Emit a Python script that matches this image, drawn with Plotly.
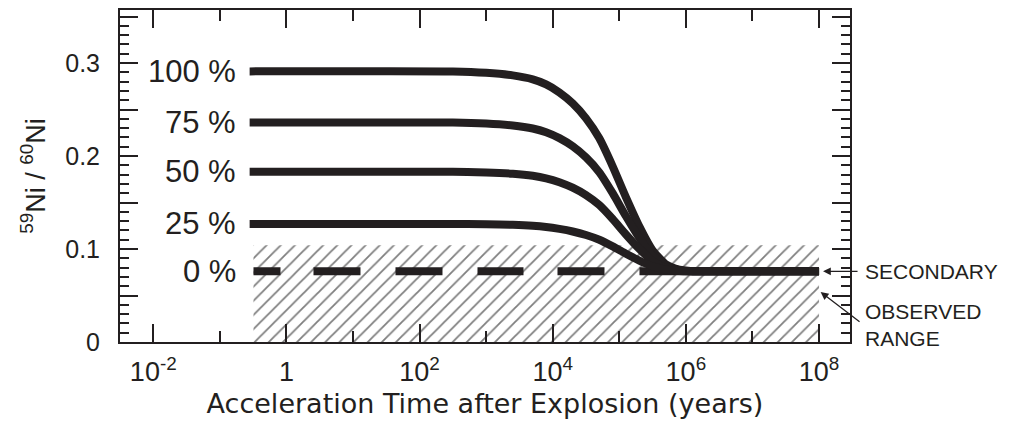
import plotly.graph_objects as go

# ---- data ----
t_years = [0.28, 10**2.5, 1e3, 10**3.4, 10**3.7, 10**3.9, 10**4.1, 10**4.3, 10**4.5,
           10**4.7, 10**4.9, 10**5.1, 10**5.3, 10**5.5, 10**5.7, 10**5.9, 10**6.1,
           10**6.4, 1e8]
ratio_100 = [0.291, 0.291, 0.2895, 0.2867, 0.2824, 0.2770, 0.2684, 0.2566, 0.2405,
             0.2190, 0.1889, 0.1556, 0.1244, 0.0986, 0.0835, 0.0777, 0.0762,
             0.076, 0.076]
ratio_75 = [0.236, 0.236, 0.2349, 0.2328, 0.2296, 0.2256, 0.2192, 0.2104, 0.1984,
            0.1824, 0.1600, 0.1352, 0.1120, 0.0928, 0.0816, 0.0773, 0.0762,
            0.076, 0.076]
ratio_50 = [0.183, 0.183, 0.1823, 0.1809, 0.1787, 0.1760, 0.1718, 0.1659, 0.1579,
            0.1472, 0.1322, 0.1156, 0.1001, 0.0872, 0.0797, 0.0769, 0.0761,
            0.076, 0.076]
ratio_25 = [0.127, 0.127, 0.1266, 0.1260, 0.1250, 0.1237, 0.1216, 0.1188, 0.1150,
            0.1099, 0.1028, 0.0949, 0.0875, 0.0814, 0.0778, 0.0764, 0.0761,
            0.076, 0.076]
curve_labels = ["100 %", "75 %", "50 %", "25 %"]

secondary_t = [0.32, 1e8]
secondary_ratio = [0.076, 0.076]

observed_t = [0.32, 1e8]
observed_ratio = [0.0, 0.104]

x_major_vals = [1e-2, 1, 1e2, 1e4, 1e6, 1e8]
x_major_text = ["10<sup>-2</sup>", "1", "10<sup>2</sup>", "10<sup>4</sup>",
                "10<sup>6</sup>", "10<sup>8</sup>"]
x_minor_vals = [1e-1, 1e1, 1e3, 1e5, 1e7]
y_major_vals = [0, 0.05, 0.1, 0.15, 0.2, 0.25, 0.3, 0.35]
y_major_text = ["0", "", "0.1", "", "0.2", "", "0.3", ""]

INK = "#231f20"
FONT = "Liberation Sans, Arial, sans-serif"
WIDE = "DejaVu Sans, sans-serif"

fig = go.Figure()

# observed range (hatched)
fig.add_trace(go.Scatter(
    x=[observed_t[0], observed_t[1], observed_t[1], observed_t[0], observed_t[0]],
    y=[observed_ratio[0], observed_ratio[0], observed_ratio[1], observed_ratio[1], observed_ratio[0]],
    mode="lines", fill="toself", line=dict(width=0), fillcolor="rgba(0,0,0,0)",
    fillpattern=dict(shape="/", size=10, solidity=0.18, fgcolor="#000000"),
    hoverinfo="skip", showlegend=False))

# 0 % secondary (dashed)
fig.add_trace(go.Scatter(
    x=secondary_t, y=secondary_ratio, mode="lines",
    line=dict(color=INK, width=8,
              dash="27px,33px,47px,35px,47px,35px,46px,34px,47px,35px,400px,10px"),
    showlegend=False, hoverinfo="skip"))

for vals in [ratio_100, ratio_75, ratio_50, ratio_25]:
    fig.add_trace(go.Scatter(
        x=t_years, y=vals, mode="lines",
        line=dict(color=INK, width=8, shape="spline", smoothing=0.6),
        showlegend=False, hoverinfo="skip"))

# curve labels
for lab, vals in zip(curve_labels + ["0 %"],
                     [ratio_100, ratio_75, ratio_50, ratio_25, secondary_ratio]):
    fig.add_annotation(x=-0.55, y=vals[0], xref="x", yref="y", text=lab,
                       showarrow=False, xanchor="right", yanchor="middle",
                       xshift=-12, font=dict(family=FONT, size=31, color=INK))

# right-side labels
fig.add_annotation(x=8, y=secondary_ratio[-1], xref="x", yref="y", text="SECONDARY",
                   showarrow=False, xanchor="left", yanchor="middle", xshift=44,
                   font=dict(family=FONT, size=21, color=INK))
fig.add_annotation(x=8, y=secondary_ratio[-1], xref="x", yref="y", text="",
                   showarrow=True, ax=40, ay=0, arrowhead=2, arrowsize=1.2,
                   arrowwidth=1.3, arrowcolor=INK, standoff=4)
fig.add_annotation(x=8, y=0.018, xref="x", yref="y", text="OBSERVED<br>RANGE",
                   showarrow=False, xanchor="left", yanchor="middle", xshift=44,
                   align="left", font=dict(family=FONT, size=21, color=INK))
fig.add_annotation(x=8, y=0.055, xref="x", yref="y", text="",
                   showarrow=True, ax=42, ay=32, arrowhead=2, arrowsize=1.2,
                   arrowwidth=1.3, arrowcolor=INK, standoff=2)

fig.update_xaxes(
    type="log", range=[-2.5, 8.465],
    tickmode="array", tickvals=x_major_vals, ticktext=x_major_text,
    ticks="inside", ticklen=18, tickwidth=1.5, tickcolor=INK,
    minor=dict(tickmode="array", tickvals=x_minor_vals, ticks="inside",
               ticklen=11, tickwidth=1.5, tickcolor=INK),
    showline=True, linewidth=2, linecolor=INK, mirror="allticks",
    showgrid=False, zeroline=False, ticklabelstandoff=5,
    tickfont=dict(family=FONT, size=27, color=INK),
    title=dict(text="Acceleration Time after Explosion (years)",
               font=dict(family=WIDE, size=27, color=INK), standoff=8))

fig.update_yaxes(
    range=[0, 0.357],
    tickmode="array", tickvals=y_major_vals, ticktext=y_major_text,
    ticks="inside", ticklen=18, tickwidth=1.5, tickcolor=INK,
    minor=dict(dtick=0.01, ticks="inside", ticklen=9, tickwidth=1.5, tickcolor=INK),
    showline=True, linewidth=2, linecolor=INK, mirror="allticks",
    showgrid=False, zeroline=False, ticklabelstandoff=13,
    tickfont=dict(family=FONT, size=25, color=INK),
    title=dict(text="<sup>59</sup>Ni / <sup>60</sup>Ni",
               font=dict(family=FONT, size=27, color=INK), standoff=12))

fig.update_layout(
    width=1016, height=425,
    margin=dict(l=112, r=174, t=0, b=91),
    paper_bgcolor="white", plot_bgcolor="white",
    showlegend=False)

fig.write_html("out.html")
